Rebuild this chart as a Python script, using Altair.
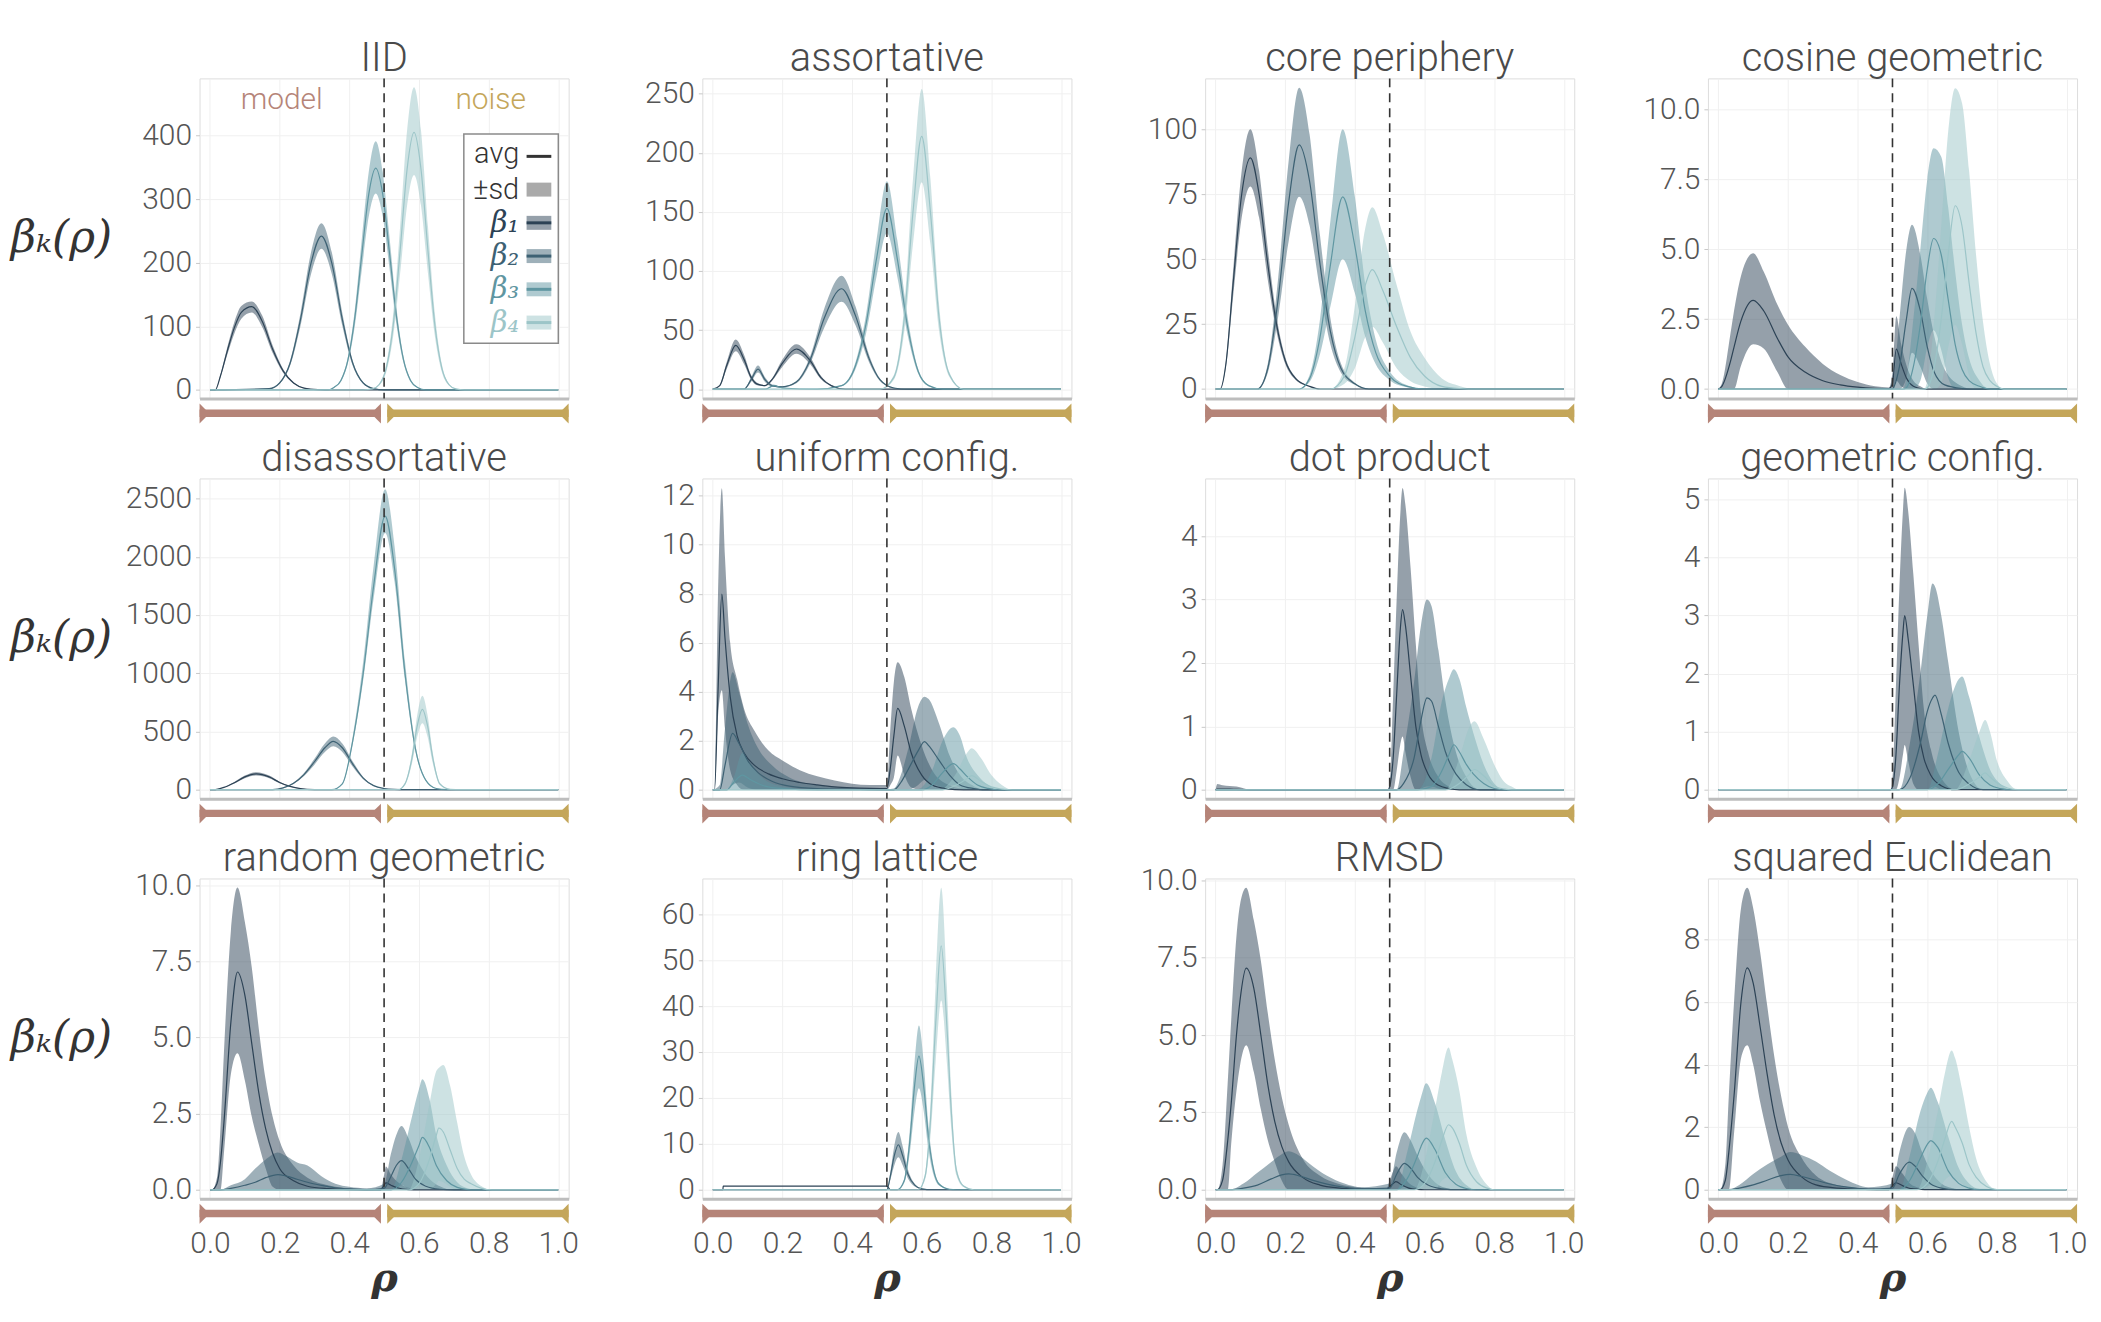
import altair as alt
import pandas as pd

# ---------------- shared values ----------------
X_TICKS = [0.0, 0.2, 0.4, 0.6, 0.8, 1.0]
X_DOMAIN = [-0.03, 1.03]
THRESHOLD = [0.5]
BETAS = ["β₁", "β₂", "β₃", "β₄"]
LINE_COLORS = ["#2c4255", "#3d6173", "#5f96a1", "#9cc5c8"]
REGIONS = ["model", "noise"]
REGION_START = [-0.03, 0.509]
REGION_END = [0.491, 1.03]
REGION_COLORS = ["#b58478", "#c4a65a"]
REGION_LABEL_X = [0.206, 0.806]
LEGEND_LABELS = ["avg", "±sd"] + BETAS

# ---------------- panel data: x, lo (avg-sd), avg, hi (avg+sd) ----------------
IID = {
    "β₁": dict(x=[0, 0.015, 0.03, 0.05, 0.07, 0.09, 0.12, 0.15, 0.18, 0.21, 0.24, 0.27, 0.31, 0.35, 1],
              lo=[0, 0, 20, 56, 89, 112, 122, 99, 58, 27, 10, 2.6, 0.4, 0, 0],
              avg=[0, 0, 22, 62, 98, 122, 131, 108, 64, 30, 11, 3, 0.5, 0, 0],
              hi=[0, 0, 24, 68, 107, 132, 139, 117, 70, 33, 12, 3.4, 0.6, 0, 0]),
    "β₂": dict(x=[0, 0.17, 0.2, 0.23, 0.26, 0.29, 0.32, 0.35, 0.38, 0.41, 0.44, 0.47, 0.5, 1],
              lo=[0, 1.8, 10, 38, 101, 182, 222, 182, 101, 38, 10, 1.8, 0, 0],
              avg=[0, 2, 11, 42, 111, 199, 242, 199, 111, 42, 11, 2, 0, 0],
              hi=[0, 2.2, 12, 46, 121, 216, 262, 216, 121, 46, 12, 2.2, 0, 0]),
    "β₃": dict(x=[0, 0.34, 0.356, 0.376, 0.396, 0.416, 0.436, 0.456, 0.476, 0.496, 0.516, 0.536, 0.556, 0.576, 0.596, 0.62, 1],
              lo=[0, 0, 3.5, 13, 42, 101, 189, 273, 309, 273, 189, 101, 42, 13, 3.5, 0, 0],
              avg=[0, 0, 4, 15, 47, 114, 213, 308, 349, 308, 213, 114, 47, 15, 4, 0, 0],
              hi=[0, 0, 4.5, 17, 52, 127, 238, 343, 391, 343, 238, 127, 52, 17, 4.5, 0, 0]),
    "β₄": dict(x=[0, 0.44, 0.466, 0.486, 0.506, 0.526, 0.546, 0.566, 0.586, 0.606, 0.626, 0.646, 0.666, 0.686, 0.706, 0.73, 1],
              lo=[0, 0, 1.3, 7.2, 28, 84, 183, 290, 338, 290, 183, 84, 28, 7.2, 1.3, 0, 0],
              avg=[0, 0, 1.6, 8.6, 34, 101, 219, 347, 405, 347, 219, 101, 34, 8.6, 1.6, 0, 0],
              hi=[0, 0, 1.9, 10, 40, 119, 257, 408, 476, 408, 257, 119, 40, 10, 1.9, 0, 0]),
}

ASSORTATIVE = {
    "β₁": dict(x=[0, 0.02, 0.04, 0.066, 0.09, 0.11, 0.13, 0.15, 0.17, 0.2, 0.24, 0.28, 0.31, 0.34, 0.38, 1],
              lo=[0, 2.5, 17, 32, 21, 8, 3, 2.5, 7, 19, 30, 21, 8.5, 2.5, 0, 0],
              avg=[0, 3, 20, 37, 25, 10, 4, 3, 8, 22, 34, 24, 10, 3, 0, 0],
              hi=[0, 3.5, 23, 42, 29, 12, 5, 3.5, 9, 25, 38, 27, 11.5, 3.5, 0, 0]),
    "β₂": dict(x=[0, 0.09, 0.11, 0.13, 0.15, 0.17, 0.2, 0.24, 0.28, 0.32, 0.37, 0.41, 0.45, 0.48, 0.52, 0.56, 1],
              lo=[0, 0, 6, 14, 6, 2, 1.5, 5, 22, 52, 74, 54, 22, 7, 0.8, 0, 0],
              avg=[0, 0, 8, 17, 8, 3, 2, 6, 25, 60, 85, 62, 25, 8, 1, 0, 0],
              hi=[0, 0, 10, 20, 10, 4, 2.5, 7, 28, 68, 96, 70, 28, 9, 1.2, 0, 0]),
    "β₃": dict(x=[0, 0.15, 0.175, 0.2, 0.3, 0.37, 0.41, 0.44, 0.47, 0.5, 0.53, 0.56, 0.59, 0.62, 0.66, 1],
              lo=[0, 0, 2, 0.6, 0, 2.5, 17, 47, 95, 132, 95, 45, 13, 2.5, 0, 0],
              avg=[0, 0, 3, 1, 0, 3, 20, 55, 110, 153, 110, 52, 15, 3, 0, 0],
              hi=[0, 0, 4, 1.4, 0, 3.5, 23, 63, 126, 176, 126, 60, 17, 3.5, 0, 0]),
    "β₄": dict(x=[0, 0.48, 0.52, 0.55, 0.575, 0.6, 0.625, 0.65, 0.68, 0.72, 1],
              lo=[0, 0, 8, 49, 123, 175, 123, 49, 10, 0, 0],
              avg=[0, 0, 10, 60, 150, 214, 150, 60, 12, 0, 0],
              hi=[0, 0, 12, 71, 178, 254, 178, 71, 14, 0, 0]),
}

CORE_PERIPHERY = {
    "β₁": dict(x=[0, 0.013, 0.03, 0.05, 0.075, 0.1, 0.125, 0.15, 0.175, 0.2, 0.23, 0.27, 0.3, 1],
              lo=[0, 0, 8.8, 35, 66, 78, 66, 42, 22, 9.7, 3.5, 0.9, 0, 0],
              avg=[0, 0, 10, 40, 75, 89, 75, 48, 25, 11, 4, 1, 0, 0],
              hi=[0, 0, 11.2, 45, 84, 100, 84, 54, 28, 12.3, 4.5, 1.1, 0, 0]),
    "β₂": dict(x=[0, 0.12, 0.15, 0.18, 0.21, 0.24, 0.27, 0.3, 0.33, 0.36, 0.4, 0.44, 1],
              lo=[0, 0, 6.3, 28, 57, 74, 63, 38, 17, 6.3, 1.6, 0, 0],
              avg=[0, 0, 8, 35, 72, 94, 80, 48, 22, 8, 2, 0, 0],
              hi=[0, 0, 9.8, 43, 88, 116, 98, 59, 27, 9.8, 2.4, 0, 0]),
    "β₃": dict(x=[0, 0.24, 0.27, 0.3, 0.33, 0.365, 0.4, 0.43, 0.46, 0.5, 0.55, 0.6, 1],
              lo=[0, 0, 2.7, 13.5, 32, 50, 37, 20, 9.5, 3.4, 0.7, 0, 0],
              avg=[0, 0, 4, 20, 48, 74, 55, 30, 14, 5, 1, 0, 0],
              hi=[0, 0, 5.4, 27, 65, 100, 74, 40, 19, 6.8, 1.4, 0, 0]),
    "β₄": dict(x=[0, 0.33, 0.37, 0.4, 0.43, 0.45, 0.48, 0.52, 0.56, 0.6, 0.65, 0.7, 0.75, 1],
              lo=[0, 0, 2, 8, 20, 24, 18, 8, 3, 1, 0.1, 0, 0, 0],
              avg=[0, 0, 5, 20, 40, 46, 38, 24, 12, 5, 1, 0.2, 0, 0],
              hi=[0, 0, 8, 32, 62, 70, 60, 40, 22, 12, 4, 1.2, 0, 0]),
}

COSINE_GEOMETRIC = {
    "β₁": dict(x=[0, 0.01, 0.035, 0.045, 0.064, 0.1, 0.13, 0.17, 0.2, 0.25, 0.3, 0.35, 0.4, 0.45, 0.49, 0.5, 0.511, 0.525, 0.54, 0.56, 0.58, 0.6, 1],
              lo=[0, 0, 0, 0, 0.8, 1.6, 1.45, 0.6, 0, 0, 0, 0, 0, 0, 0, 0, 0.3, 0.1, 0, 0, 0, 0, 0],
              avg=[0, 0.1, 1.0, 1.5, 2.4, 3.17, 2.8, 1.8, 1.15, 0.6, 0.3, 0.15, 0.07, 0.03, 0.02, 0.2, 1.43, 0.9, 0.4, 0.1, 0.02, 0, 0],
              hi=[0, 0.2, 2.0, 2.8, 4.0, 4.85, 4.2, 3.0, 2.3, 1.5, 0.9, 0.5, 0.25, 0.1, 0.06, 0.6, 2.6, 1.6, 0.85, 0.3, 0.1, 0, 0]),
    "β₂": dict(x=[0, 0.5, 0.505, 0.52, 0.54, 0.556, 0.58, 0.6, 0.62, 0.65, 0.7, 0.73, 1],
              lo=[0, 0, 0, 0, 0.4, 1.3, 0.8, 0.2, 0, 0, 0, 0, 0],
              avg=[0, 0, 0.1, 0.8, 2.5, 3.6, 2.8, 1.5, 0.6, 0.15, 0.02, 0, 0],
              hi=[0, 0, 0.5, 2.5, 5.0, 5.87, 4.8, 3.2, 1.9, 0.7, 0.1, 0, 0]),
    "β₃": dict(x=[0, 0.53, 0.54, 0.56, 0.58, 0.6, 0.618, 0.64, 0.66, 0.68, 0.7, 0.72, 0.75, 0.78, 1],
              lo=[0, 0, 0, 0, 0.3, 1.5, 2.1, 1.4, 0.4, 0, 0, 0, 0, 0, 0],
              avg=[0, 0, 0.05, 0.8, 2.3, 4.3, 5.38, 4.8, 3.2, 1.6, 0.7, 0.3, 0.1, 0, 0],
              hi=[0, 0, 0.4, 2.5, 5.0, 7.5, 8.6, 8.3, 6.5, 4.2, 2.3, 1.1, 0.3, 0, 0]),
    "β₄": dict(x=[0, 0.59, 0.6, 0.62, 0.64, 0.66, 0.68, 0.7, 0.72, 0.74, 0.76, 0.78, 0.8, 0.82, 1],
              lo=[0, 0, 0, 0, 0.2, 1.5, 2.3, 1.6, 0.5, 0, 0, 0, 0, 0, 0],
              avg=[0, 0, 0.05, 0.8, 2.5, 4.8, 6.55, 5.8, 3.8, 2.0, 0.8, 0.3, 0.1, 0, 0],
              hi=[0, 0, 0.3, 2.5, 5.8, 9.2, 10.75, 10.2, 7.8, 4.8, 2.4, 0.9, 0.2, 0, 0]),
}

DISASSORTATIVE = {
    "β₁": dict(x=[0, 0.01, 0.04, 0.07, 0.1, 0.133, 0.17, 0.2, 0.23, 0.26, 0.3, 0.34, 1],
              lo=[0, 0, 18, 54, 99, 122, 99, 56, 25, 8, 0.9, 0, 0],
              avg=[0, 0, 20, 60, 110, 136, 110, 62, 28, 9, 1, 0, 0],
              hi=[0, 0, 22, 66, 121, 150, 121, 68, 31, 10, 1.1, 0, 0]),
    "β₂": dict(x=[0, 0.18, 0.21, 0.24, 0.27, 0.3, 0.33, 0.354, 0.38, 0.41, 0.44, 0.47, 0.5, 0.53, 0.56, 1],
              lo=[0, 0, 13, 49, 117, 215, 323, 372, 323, 197, 90, 31, 9, 1.8, 0, 0],
              avg=[0, 0, 15, 55, 130, 240, 360, 415, 360, 220, 100, 35, 10, 2, 0, 0],
              hi=[0, 0, 17, 61, 143, 265, 397, 457, 397, 243, 110, 39, 11, 2.2, 0, 0]),
    "β₃": dict(x=[0, 0.35, 0.38, 0.41, 0.44, 0.47, 0.503, 0.53, 0.56, 0.59, 0.62, 0.65, 0.68, 1],
              lo=[0, 0, 45, 395, 940, 1645, 2205, 1785, 940, 330, 75, 9, 0, 0],
              avg=[0, 0, 50, 420, 1000, 1750, 2350, 1900, 1000, 350, 80, 10, 0, 0],
              hi=[0, 0, 55, 460, 1100, 1925, 2580, 2090, 1100, 385, 88, 11, 0, 0]),
    "β₄": dict(x=[0, 0.54, 0.56, 0.58, 0.595, 0.61, 0.625, 0.64, 0.66, 0.69, 0.72, 1],
              lo=[0, 0, 41, 224, 452, 571, 452, 224, 41, 2.5, 0, 0],
              avg=[0, 0, 50, 270, 545, 690, 545, 270, 50, 3, 0, 0],
              hi=[0, 0, 59, 316, 638, 807, 638, 316, 59, 3.5, 0, 0]),
}

UNIFORM_CONFIG = {
    "β₁": dict(x=[0, 0.005, 0.015, 0.026, 0.035, 0.05, 0.07, 0.09, 0.12, 0.16, 0.2, 0.25, 0.3, 0.35, 0.4, 0.45, 0.5, 0.51, 0.52, 0.531, 0.55, 0.57, 0.6, 0.63, 0.67, 0.72, 1],
              lo=[0, 0, 3, 4.06, 2.5, 0.8, 0.2, 0, 0, 0, 0, 0, 0, 0, 0, 0, 0, 0.2, 0.5, 1.4, 0.6, 0.1, 0, 0, 0, 0, 0],
              avg=[0, 0, 4, 7.98, 6.2, 3.8, 2.2, 1.5, 1.0, 0.65, 0.45, 0.3, 0.2, 0.12, 0.08, 0.06, 0.05, 0.9, 2.2, 3.32, 2.6, 1.5, 0.6, 0.2, 0.05, 0, 0],
              hi=[0, 0, 8, 12.3, 9.5, 6.0, 4.5, 3.3, 2.4, 1.6, 1.2, 0.8, 0.55, 0.38, 0.25, 0.2, 0.2, 2.5, 4.4, 5.2, 4.6, 3.3, 1.8, 0.8, 0.25, 0.05, 0]),
    "β₂": dict(x=[0, 0.02, 0.035, 0.057, 0.075, 0.1, 0.13, 0.17, 0.22, 0.3, 0.4, 0.5, 0.52, 0.54, 0.56, 0.59, 0.608, 0.62, 0.65, 0.68, 0.71, 0.75, 0.78, 1],
              lo=[0, 0, 0, 0.2, 0.3, 0.1, 0, 0, 0, 0, 0, 0, 0, 0, 0, 0.2, 0.4, 0.3, 0.15, 0, 0, 0, 0, 0],
              avg=[0, 0, 1.0, 2.3, 1.9, 1.2, 0.7, 0.35, 0.15, 0.05, 0.02, 0, 0, 0.3, 0.8, 1.6, 1.97, 1.8, 1.2, 0.6, 0.2, 0.05, 0, 0],
              hi=[0, 0.2, 2.5, 4.8, 4.0, 2.7, 1.7, 1.0, 0.5, 0.2, 0.08, 0.02, 0.05, 0.6, 1.6, 3.4, 3.8, 3.7, 2.7, 1.4, 0.6, 0.15, 0, 0]),
    "β₃": dict(x=[0, 0.04, 0.06, 0.085, 0.11, 0.15, 0.2, 0.3, 0.58, 0.6, 0.63, 0.66, 0.691, 0.71, 0.73, 0.76, 0.79, 0.82, 1],
              lo=[0, 0, 0, 0, 0, 0, 0, 0, 0, 0, 0, 0, 0.2, 0.1, 0, 0, 0, 0, 0],
              avg=[0, 0, 0.3, 0.6, 0.4, 0.15, 0.05, 0, 0, 0, 0.2, 0.7, 1.07, 0.85, 0.55, 0.2, 0.06, 0, 0],
              hi=[0, 0, 0.5, 1.5, 1.0, 0.4, 0.15, 0, 0, 0.1, 0.8, 2.0, 2.55, 2.2, 1.3, 0.6, 0.2, 0, 0]),
    "β₄": dict(x=[0, 0.64, 0.66, 0.7, 0.73, 0.743, 0.77, 0.8, 0.83, 0.86, 1],
              lo=[0, 0, 0, 0, 0, 0, 0, 0, 0, 0, 0],
              avg=[0, 0, 0, 0.2, 0.45, 0.58, 0.35, 0.12, 0.03, 0, 0],
              hi=[0, 0, 0.05, 0.7, 1.5, 1.7, 1.3, 0.6, 0.2, 0, 0]),
}

DOT_PRODUCT = {
    "β₁": dict(x=[0, 0.005, 0.02, 0.04, 0.06, 0.1, 0.495, 0.5, 0.51, 0.52, 0.53, 0.537, 0.545, 0.56, 0.575, 0.59, 0.61, 0.64, 0.67, 0.7, 1],
              lo=[0, 0, 0, 0, 0, 0, 0, 0, 0, 0.3, 0.7, 0.84, 0.6, 0.2, 0, 0, 0, 0, 0, 0, 0],
              avg=[0, 0.01, 0.01, 0.01, 0.005, 0, 0, 0.05, 0.5, 1.5, 2.5, 2.84, 2.6, 1.8, 1.0, 0.55, 0.25, 0.07, 0.02, 0, 0],
              hi=[0, 0.09, 0.07, 0.06, 0.05, 0, 0, 0.1, 1.5, 3.0, 4.3, 4.76, 4.5, 3.5, 2.3, 1.2, 0.6, 0.2, 0.05, 0, 0]),
    "β₂": dict(x=[0, 0.52, 0.54, 0.57, 0.59, 0.607, 0.62, 0.64, 0.66, 0.69, 0.72, 0.76, 1],
              lo=[0, 0, 0, 0, 0.02, 0.05, 0.05, 0.02, 0, 0, 0, 0, 0],
              avg=[0, 0, 0.1, 0.5, 1.1, 1.45, 1.4, 1.0, 0.6, 0.25, 0.08, 0, 0],
              hi=[0, 0, 0.6, 1.7, 2.6, 3.0, 2.9, 2.2, 1.4, 0.6, 0.2, 0, 0]),
    "β₃": dict(x=[0, 0.58, 0.62, 0.65, 0.67, 0.684, 0.7, 0.72, 0.74, 0.77, 0.8, 0.83, 1],
              lo=[0, 0, 0, 0, 0, 0, 0, 0, 0, 0, 0, 0, 0],
              avg=[0, 0, 0.05, 0.3, 0.55, 0.71, 0.6, 0.4, 0.25, 0.1, 0.02, 0, 0],
              hi=[0, 0, 0.5, 1.4, 1.75, 1.9, 1.75, 1.3, 0.9, 0.4, 0.1, 0, 0]),
    "β₄": dict(x=[0, 0.66, 0.7, 0.73, 0.743, 0.77, 0.8, 0.83, 0.85, 0.87, 1],
              lo=[0, 0, 0, 0, 0, 0, 0, 0, 0, 0, 0],
              avg=[0, 0, 0.1, 0.25, 0.32, 0.22, 0.06, 0.01, 0, 0, 0],
              hi=[0, 0, 0.5, 1.0, 1.08, 0.8, 0.4, 0.12, 0.05, 0, 0]),
}

GEOMETRIC_CONFIG = {
    "β₁": dict(x=[0, 0.495, 0.5, 0.51, 0.52, 0.53, 0.535, 0.545, 0.56, 0.575, 0.59, 0.61, 0.64, 0.68, 1],
              lo=[0, 0, 0, 0, 0.2, 0.6, 0.77, 0.5, 0.1, 0, 0, 0, 0, 0, 0],
              avg=[0, 0, 0.05, 0.6, 1.8, 2.7, 3.0, 2.6, 1.8, 1.0, 0.55, 0.25, 0.07, 0, 0],
              hi=[0, 0, 0.2, 1.8, 3.5, 4.8, 5.2, 4.8, 3.7, 2.5, 1.4, 0.7, 0.2, 0, 0]),
    "β₂": dict(x=[0, 0.52, 0.55, 0.58, 0.6, 0.615, 0.622, 0.64, 0.66, 0.69, 0.72, 0.76, 1],
              lo=[0, 0, 0, 0, 0, 0.05, 0.05, 0, 0, 0, 0, 0, 0],
              avg=[0, 0, 0.2, 0.8, 1.35, 1.58, 1.63, 1.3, 0.8, 0.3, 0.1, 0, 0],
              hi=[0, 0, 0.8, 2.0, 3.0, 3.55, 3.5, 3.0, 2.2, 1.0, 0.3, 0, 0]),
    "β₃": dict(x=[0, 0.6, 0.63, 0.66, 0.69, 0.7, 0.72, 0.75, 0.78, 0.81, 0.84, 1],
              lo=[0, 0, 0, 0, 0, 0, 0, 0, 0, 0, 0, 0],
              avg=[0, 0, 0.1, 0.35, 0.6, 0.66, 0.55, 0.25, 0.08, 0.02, 0, 0],
              hi=[0, 0, 0.6, 1.4, 1.9, 1.95, 1.6, 0.9, 0.35, 0.1, 0, 0]),
    "β₄": dict(x=[0, 0.68, 0.72, 0.75, 0.766, 0.78, 0.8, 0.83, 0.86, 1],
              lo=[0, 0, 0, 0, 0, 0, 0, 0, 0, 0],
              avg=[0, 0, 0.1, 0.22, 0.29, 0.22, 0.12, 0.03, 0, 0],
              hi=[0, 0, 0.5, 1.0, 1.2, 1.0, 0.5, 0.15, 0, 0]),
}

RANDOM_GEOMETRIC = {
    "β₁": dict(x=[0, 0.005, 0.02, 0.03, 0.04, 0.06, 0.079, 0.1, 0.12, 0.14, 0.16, 0.18, 0.2, 0.24, 0.28, 0.34, 0.4, 0.49, 0.5, 0.505, 0.52, 0.54, 0.57, 0.6, 1],
              lo=[0, 0, 0, 0, 1.2, 3.8, 4.48, 3.6, 2.4, 1.5, 0.7, 0.1, 0, 0, 0, 0, 0, 0, 0, 0, 0, 0, 0, 0, 0],
              avg=[0, 0, 0.2, 0.9, 2.2, 5.5, 7.15, 6.4, 4.8, 3.2, 2.0, 1.2, 0.7, 0.3, 0.12, 0.04, 0.01, 0, 0.15, 0.23, 0.15, 0.06, 0.01, 0, 0],
              hi=[0, 0, 0.4, 2.0, 4.5, 8.5, 9.92, 8.8, 7.3, 5.3, 3.6, 2.4, 1.6, 0.8, 0.4, 0.15, 0.05, 0.02, 0.5, 0.77, 0.5, 0.25, 0.07, 0, 0]),
    "β₂": dict(x=[0, 0.03, 0.06, 0.1, 0.13, 0.16, 0.195, 0.22, 0.25, 0.28, 0.32, 0.36, 0.4, 0.45, 0.5, 0.52, 0.535, 0.55, 0.57, 0.59, 0.62, 0.66, 0.7, 1],
              lo=[0, 0, 0, 0, 0, 0, 0, 0, 0, 0, 0, 0, 0, 0, 0, 0, 0.05, 0.15, 0.05, 0, 0, 0, 0, 0],
              avg=[0, 0, 0.05, 0.15, 0.25, 0.4, 0.5, 0.45, 0.35, 0.25, 0.15, 0.07, 0.03, 0.01, 0.05, 0.45, 0.8, 0.96, 0.7, 0.35, 0.12, 0.02, 0, 0],
              hi=[0, 0, 0.15, 0.35, 0.7, 1.0, 1.23, 1.1, 0.9, 0.8, 0.45, 0.2, 0.1, 0.05, 0.2, 1.2, 1.8, 2.1, 1.7, 1.1, 0.5, 0.12, 0, 0]),
    "β₃": dict(x=[0, 0.52, 0.55, 0.58, 0.6, 0.61, 0.63, 0.65, 0.68, 0.71, 0.74, 0.76, 1],
              lo=[0, 0, 0, 0, 0.15, 0.2, 0.1, 0, 0, 0, 0, 0, 0],
              avg=[0, 0, 0.25, 0.9, 1.45, 1.72, 1.4, 0.8, 0.3, 0.08, 0.01, 0, 0],
              hi=[0, 0, 1.0, 2.4, 3.3, 3.63, 3.0, 1.8, 0.8, 0.25, 0.05, 0, 0]),
    "β₄": dict(x=[0, 0.57, 0.6, 0.63, 0.65, 0.657, 0.67, 0.69, 0.71, 0.73, 0.75, 0.78, 0.81, 1],
              lo=[0, 0, 0, 0, 0.2, 0.3, 0.25, 0.1, 0, 0, 0, 0, 0, 0],
              avg=[0, 0, 0.2, 1.0, 1.8, 2.03, 1.9, 1.3, 0.7, 0.35, 0.2, 0.05, 0, 0],
              hi=[0, 0, 1.0, 2.8, 3.9, 4.0, 4.1, 3.4, 2.2, 1.1, 0.5, 0.12, 0, 0]),
}

RING_LATTICE = {
    "β₁": dict(x=[0, 0.029, 0.03, 0.499, 0.5, 0.51, 1],
              lo=[0, 0, 0.8, 0.8, 0.8, 0, 0],
              avg=[0, 0, 0.8, 0.8, 0.8, 0, 0],
              hi=[0, 0, 0.8, 0.8, 0.8, 0, 0]),
    "β₂": dict(x=[0, 0.5, 0.51, 0.52, 0.533, 0.545, 0.56, 0.58, 0.6, 0.63, 1],
              lo=[0, 0, 2.2, 5, 7.1, 5.4, 2.5, 0.7, 0.15, 0, 0],
              avg=[0, 0, 3, 7, 9.8, 7.5, 3.5, 1.0, 0.2, 0, 0],
              hi=[0, 0, 3.9, 9, 12.6, 9.6, 4.5, 1.3, 0.25, 0, 0]),
    "β₃": dict(x=[0, 0.53, 0.55, 0.565, 0.58, 0.592, 0.605, 0.62, 0.635, 0.65, 0.68, 0.7, 1],
              lo=[0, 0, 1.5, 7.6, 17.5, 22.1, 17.5, 8.4, 3, 0.9, 0.1, 0, 0],
              avg=[0, 0, 2, 10, 23, 29.1, 23, 11, 4, 1.2, 0.1, 0, 0],
              hi=[0, 0, 2.5, 12.3, 28.3, 35.8, 28.3, 13.5, 4.9, 1.5, 0.1, 0, 0]),
    "β₄": dict(x=[0, 0.59, 0.61, 0.625, 0.64, 0.656, 0.672, 0.685, 0.7, 0.72, 0.75, 1],
              lo=[0, 0, 2.3, 11.6, 27.9, 41.2, 27.9, 13.2, 3.1, 0.6, 0, 0],
              avg=[0, 0, 3, 15, 36, 53.1, 36, 17, 4, 0.8, 0, 0],
              hi=[0, 0, 3.7, 18.6, 44.6, 65.8, 44.6, 21.1, 5, 1, 0, 0]),
}

RMSD = {
    "β₁": dict(x=[0, 0.005, 0.02, 0.035, 0.045, 0.06, 0.07, 0.088, 0.11, 0.13, 0.15, 0.17, 0.19, 0.21, 0.25, 0.3, 0.35, 0.42, 0.49, 0.5, 0.51, 0.518, 0.535, 0.555, 0.58, 0.6, 1],
              lo=[0, 0, 0, 0, 1.5, 3.2, 4.0, 4.67, 3.8, 2.6, 1.6, 0.9, 0.3, 0, 0, 0, 0, 0, 0, 0, 0, 0, 0, 0, 0, 0, 0],
              avg=[0, 0, 0.3, 1.6, 2.8, 5.0, 6.1, 7.16, 6.5, 5.0, 3.4, 2.2, 1.4, 0.9, 0.4, 0.15, 0.06, 0.02, 0.01, 0.1, 0.2, 0.26, 0.15, 0.05, 0.01, 0, 0],
              hi=[0, 0, 0.8, 3.5, 5.5, 8.2, 9.2, 9.76, 8.7, 7.4, 5.7, 4.2, 3.0, 2.1, 1.0, 0.45, 0.2, 0.06, 0.02, 0.3, 0.6, 0.76, 0.5, 0.22, 0.06, 0, 0]),
    "β₂": dict(x=[0, 0.04, 0.08, 0.12, 0.16, 0.19, 0.21, 0.24, 0.28, 0.32, 0.37, 0.42, 0.5, 0.52, 0.542, 0.56, 0.58, 0.61, 0.65, 0.7, 1],
              lo=[0, 0, 0, 0, 0, 0, 0, 0, 0, 0, 0, 0, 0, 0, 0.1, 0, 0, 0, 0, 0, 0],
              avg=[0, 0, 0.05, 0.15, 0.35, 0.48, 0.51, 0.45, 0.3, 0.18, 0.08, 0.03, 0.05, 0.5, 0.85, 0.7, 0.4, 0.15, 0.03, 0, 0],
              hi=[0, 0, 0.2, 0.55, 0.9, 1.15, 1.24, 1.1, 0.75, 0.45, 0.2, 0.08, 0.2, 1.2, 1.86, 1.6, 1.1, 0.5, 0.1, 0, 0]),
    "β₃": dict(x=[0, 0.52, 0.55, 0.58, 0.59, 0.605, 0.63, 0.66, 0.69, 0.72, 0.75, 1],
              lo=[0, 0, 0, 0, 0.1, 0.2, 0.1, 0, 0, 0, 0, 0],
              avg=[0, 0, 0.35, 1.1, 1.4, 1.67, 1.3, 0.55, 0.18, 0.04, 0, 0],
              hi=[0, 0, 1.2, 2.6, 3.0, 3.44, 2.8, 1.6, 0.6, 0.15, 0, 0]),
    "β₄": dict(x=[0, 0.57, 0.6, 0.63, 0.65, 0.669, 0.68, 0.7, 0.72, 0.75, 0.78, 0.8, 1],
              lo=[0, 0, 0, 0, 0.3, 0.4, 0.35, 0.2, 0, 0, 0, 0, 0],
              avg=[0, 0, 0.2, 0.9, 1.6, 2.1, 2.0, 1.5, 0.8, 0.25, 0.05, 0, 0],
              hi=[0, 0, 0.9, 2.6, 3.8, 4.6, 4.2, 3.2, 1.8, 0.7, 0.15, 0, 0]),
}

SQUARED_EUCLIDEAN = {
    "β₁": dict(x=[0, 0.005, 0.02, 0.03, 0.045, 0.065, 0.083, 0.1, 0.12, 0.14, 0.16, 0.18, 0.2, 0.24, 0.28, 0.34, 0.42, 0.49, 0.5, 0.51, 0.53, 0.55, 0.58, 0.6, 1],
              lo=[0, 0, 0, 0, 1.8, 4.2, 4.62, 4.0, 2.8, 1.8, 0.9, 0.3, 0, 0, 0, 0, 0, 0, 0, 0, 0, 0, 0, 0, 0],
              avg=[0, 0, 0.3, 1.2, 3.0, 6.0, 7.09, 6.6, 5.2, 3.7, 2.4, 1.5, 0.95, 0.4, 0.15, 0.05, 0.01, 0, 0.12, 0.22, 0.12, 0.04, 0.01, 0, 0],
              hi=[0, 0, 0.8, 3.0, 6.0, 9.0, 9.65, 9.0, 7.6, 5.9, 4.3, 3.0, 2.0, 1.0, 0.45, 0.15, 0.04, 0.01, 0.4, 0.75, 0.5, 0.2, 0.05, 0, 0]),
    "β₂": dict(x=[0, 0.03, 0.06, 0.1, 0.14, 0.18, 0.206, 0.24, 0.28, 0.32, 0.37, 0.43, 0.5, 0.52, 0.548, 0.565, 0.585, 0.61, 0.64, 0.68, 0.7, 1],
              lo=[0, 0, 0, 0, 0, 0, 0, 0, 0, 0, 0, 0, 0, 0, 0.1, 0, 0, 0, 0, 0, 0, 0],
              avg=[0, 0, 0.05, 0.15, 0.3, 0.45, 0.49, 0.42, 0.3, 0.18, 0.08, 0.02, 0.05, 0.5, 0.88, 0.75, 0.45, 0.18, 0.05, 0, 0, 0],
              hi=[0, 0, 0.15, 0.5, 0.8, 1.05, 1.2, 1.1, 0.9, 0.6, 0.3, 0.08, 0.2, 1.2, 2.0, 1.8, 1.2, 0.6, 0.2, 0.03, 0, 0]),
    "β₃": dict(x=[0, 0.52, 0.55, 0.58, 0.6, 0.61, 0.63, 0.66, 0.69, 0.72, 0.75, 1],
              lo=[0, 0, 0, 0, 0.1, 0.15, 0.1, 0, 0, 0, 0, 0],
              avg=[0, 0, 0.3, 1.0, 1.45, 1.57, 1.35, 0.6, 0.2, 0.05, 0, 0],
              hi=[0, 0, 1.1, 2.5, 3.1, 3.26, 2.8, 1.7, 0.7, 0.2, 0.03, 0]),
    "β₄": dict(x=[0, 0.57, 0.6, 0.63, 0.65, 0.67, 0.68, 0.7, 0.72, 0.74, 0.77, 0.8, 1],
              lo=[0, 0, 0, 0, 0.3, 0.45, 0.35, 0.2, 0, 0, 0, 0, 0],
              avg=[0, 0, 0.2, 0.9, 1.6, 2.18, 2.0, 1.5, 0.8, 0.4, 0.1, 0, 0],
              hi=[0, 0, 0.9, 2.5, 3.7, 4.45, 4.2, 3.2, 2.0, 1.0, 0.25, 0, 0]),
}

PANEL_TITLES = ["IID", "assortative", "core periphery", "cosine geometric",
                "disassortative", "uniform config.", "dot product", "geometric config.",
                "random geometric", "ring lattice", "RMSD", "squared Euclidean"]
PANEL_DATA = [IID, ASSORTATIVE, CORE_PERIPHERY, COSINE_GEOMETRIC,
              DISASSORTATIVE, UNIFORM_CONFIG, DOT_PRODUCT, GEOMETRIC_CONFIG,
              RANDOM_GEOMETRIC, RING_LATTICE, RMSD, SQUARED_EUCLIDEAN]
Y_DOMAINS = [[-13.6, 490], [-8, 263], [-3.7, 119.6], [-0.34, 11.1],
             [-77, 2673], [-0.36, 12.7], [-0.14, 4.91], [-0.154, 5.36],
             [-0.29, 10.22], [-1.95, 67.8], [-0.29, 10.06], [-0.29, 9.95]]
Y_TICKS = [[0, 100, 200, 300, 400], [0, 50, 100, 150, 200, 250], [0, 25, 50, 75, 100], [0, 2.5, 5, 7.5, 10],
           [0, 500, 1000, 1500, 2000, 2500], [0, 2, 4, 6, 8, 10, 12], [0, 1, 2, 3, 4], [0, 1, 2, 3, 4, 5],
           [0, 2.5, 5, 7.5, 10], [0, 10, 20, 30, 40, 50, 60], [0, 2.5, 5, 7.5, 10], [0, 2, 4, 6, 8]]
Y_FORMATS = ["d", "d", "d", ".1f", "d", "d", "d", "d", ".1f", "d", ".1f", "d"]

# ---------------- styling ----------------
W, H = 370, 321
FONT = "Roboto"
TEXT_GREY = "#4a4a4a"
LABEL_GREY = "#555555"
GRID = "#f0f0f0"
SERIF = "DejaVu Serif"
Y_LABEL_SIZE = 30
TITLE_OFFSET = -1


def curve_frame(curve):
    n = len(curve["x"])
    for key in ("lo", "avg", "hi"):
        if len(curve[key]) != n:
            raise ValueError("length mismatch")
    return pd.DataFrame({"x": curve["x"], "lo": curve["lo"], "avg": curve["avg"], "hi": curve["hi"]})


def title_offset(idx):
    # a top tick label that pokes above the frame enlarges the panel bounds, and the
    # title is offset from those bounds: compensate so all titles sit on the frame
    lo, hi = Y_DOMAINS[idx]
    top_tick = max(Y_TICKS[idx])
    gap = H * (hi - top_tick) / (hi - lo)
    overflow = max(0.0, Y_LABEL_SIZE / 2 - gap)
    return TITLE_OFFSET - overflow


def make_panel(idx):
    row, col = divmod(idx, 4)
    bottom = row == 2
    title = PANEL_TITLES[idx]
    data = PANEL_DATA[idx]

    xscale = alt.Scale(domain=X_DOMAIN, nice=False, zero=False)
    yscale = alt.Scale(domain=Y_DOMAINS[idx], nice=False, zero=False)

    xaxis_kw = dict(values=X_TICKS, format=".1f", grid=True, gridColor=GRID, gridWidth=1,
                    domainColor="#bdbdbd", domainWidth=3, ticks=False, labelFlush=False,
                    labels=bottom, labelFontSize=30, labelPadding=30, labelColor=LABEL_GREY,
                    labelFont=FONT, labelFontWeight=300)
    if bottom:
        xaxis_kw.update(title="ρ", titleFont=SERIF, titleFontStyle="italic", titleFontWeight="bold",
                        titleFontSize=40, titleColor="#333333", titlePadding=0)
    else:
        xaxis_kw.update(title=None)
    xaxis = alt.Axis(**xaxis_kw)

    yaxis_kw = dict(values=Y_TICKS[idx], format=Y_FORMATS[idx], grid=True, gridColor=GRID, gridWidth=1,
                    domain=False, ticks=True, tickSize=4, tickColor="#c8c8c8",
                    labelFontSize=Y_LABEL_SIZE, labelColor=LABEL_GREY, labelFont=FONT, labelFontWeight=300,
                    labelPadding=4, minExtent=80, maxExtent=80)
    if col == 0:
        yaxis_kw.update(title="βₖ(ρ)", titleAngle=0, titleX=-139, titleY=H / 2, titleAlign="center",
                        titleBaseline="middle", titleFont=SERIF, titleFontStyle="italic",
                        titleFontSize=44, titleColor="#333333", titleFontWeight="normal")
    else:
        yaxis_kw.update(title=None)
    yaxis = alt.Axis(**yaxis_kw)

    def X(field):
        return alt.X(field, type="quantitative", scale=xscale, axis=xaxis)

    def Y(field):
        return alt.Y(field, type="quantitative", scale=yscale, axis=yaxis)

    layers = []
    frames = [curve_frame(data[b]) for b in BETAS]
    # sd bands
    for b, color, df in zip(BETAS, LINE_COLORS, frames):
        layers.append(alt.Chart(df).mark_area(interpolate="monotone", color=color, opacity=0.5)
                      .encode(x=X("x"), y=Y("lo"), y2="hi"))
    # averages
    for b, color, df in zip(BETAS, LINE_COLORS, frames):
        layers.append(alt.Chart(df).mark_line(interpolate="monotone", color=color, strokeWidth=1.2)
                      .encode(x=X("x"), y=Y("avg")))
    # model / noise threshold
    layers.append(alt.Chart(pd.DataFrame({"x": THRESHOLD})).mark_rule(
        color="#333333", strokeDash=[9, 6], strokeWidth=1.6).encode(x=X("x")))

    # region strips below the frame
    tri_left = "M -0.5 -1 L 0.5 0 L -0.5 1 Z"
    tri_right = "M 0.5 -1 L -0.5 0 L 0.5 1 Z"
    for i in range(2):
        sdf = pd.DataFrame({"start": [REGION_START[i]], "end": [REGION_END[i]]})
        layers.append(alt.Chart(sdf).mark_rect(color=REGION_COLORS[i]).encode(
            x=X("start"), x2="end", y=alt.value(H + 11), y2=alt.value(H + 18.5)))
        layers.append(alt.Chart(sdf).mark_point(shape=tri_left, filled=True, size=400, opacity=1,
                                                strokeWidth=0, color=REGION_COLORS[i], xOffset=5)
                      .encode(x=X("start"), y=alt.value(H + 15)))
        layers.append(alt.Chart(sdf).mark_point(shape=tri_right, filled=True, size=400, opacity=1,
                                                strokeWidth=0, color=REGION_COLORS[i], xOffset=-5)
                      .encode(x=X("end"), y=alt.value(H + 15)))

    if idx == 0:
        # model / noise labels
        for i in range(2):
            ldf = pd.DataFrame({"x": [REGION_LABEL_X[i]], "label": [REGIONS[i]]})
            layers.append(alt.Chart(ldf).mark_text(font=FONT, fontWeight=300, fontSize=30,
                                                   color=REGION_COLORS[i], baseline="middle")
                          .encode(x=X("x"), y=alt.value(0.066 * H), text="label:N"))
        # legend box
        one = pd.DataFrame({"k": [0]})
        bx0, bx1 = 0.716 * W, 0.972 * W
        by0, by1 = 0.174 * H, 0.827 * H
        layers.append(alt.Chart(one).mark_rect(fill="white", stroke="#8a8a8a", strokeWidth=1.5).encode(
            x=alt.value(bx0), x2=alt.value(bx1), y=alt.value(by0), y2=alt.value(by1)))
        sx0, sx1 = 0.886 * W, 0.953 * W
        tx = 0.866 * W
        for i, lab in enumerate(LEGEND_LABELS):
            yc = (0.2435 + 0.1038 * i) * H
            if i == 0:
                layers.append(alt.Chart(one).mark_text(text=lab, font=FONT, fontWeight=300, fontSize=29,
                                                       color="#333333", align="right", baseline="middle")
                              .encode(x=alt.value(tx), y=alt.value(yc - 2)))
                layers.append(alt.Chart(one).mark_rule(color="#333333", strokeWidth=3).encode(
                    x=alt.value(sx0), x2=alt.value(sx1), y=alt.value(yc)))
            elif i == 1:
                layers.append(alt.Chart(one).mark_text(text=lab, font=FONT, fontWeight=300, fontSize=29,
                                                       color="#333333", align="right", baseline="middle")
                              .encode(x=alt.value(tx), y=alt.value(yc)))
                layers.append(alt.Chart(one).mark_rect(color="#aaaaaa").encode(
                    x=alt.value(sx0), x2=alt.value(sx1), y=alt.value(yc - 7), y2=alt.value(yc + 7)))
            else:
                c = LINE_COLORS[i - 2]
                layers.append(alt.Chart(one).mark_text(text=lab, font=SERIF, fontStyle="italic", fontSize=29,
                                                       color=c, align="right", baseline="middle")
                              .encode(x=alt.value(tx), y=alt.value(yc)))
                layers.append(alt.Chart(one).mark_rect(color=c, opacity=0.5).encode(
                    x=alt.value(sx0), x2=alt.value(sx1), y=alt.value(yc - 7), y2=alt.value(yc + 7)))
                layers.append(alt.Chart(one).mark_rule(color=c, strokeWidth=3).encode(
                    x=alt.value(sx0), x2=alt.value(sx1), y=alt.value(yc)))

    return alt.layer(*layers).properties(
        width=W, height=H,
        title=alt.TitleParams(text=title, fontSize=40, font=FONT, fontWeight=300,
                              color=TEXT_GREY, offset=title_offset(idx), anchor="middle", frame="group"))


panels = [make_panel(i) for i in range(12)]

chart = alt.concat(*panels, columns=4, spacing=alt.RowColnumber(row=13, column=42)).properties(
    padding={"left": 1, "top": 28, "right": 5, "bottom": 5}
).configure_view(stroke="#8a8a8a", strokeWidth=1.3).configure(background="white")

chart.save("out.html", embed_options={"renderer": "svg", "actions": False})
